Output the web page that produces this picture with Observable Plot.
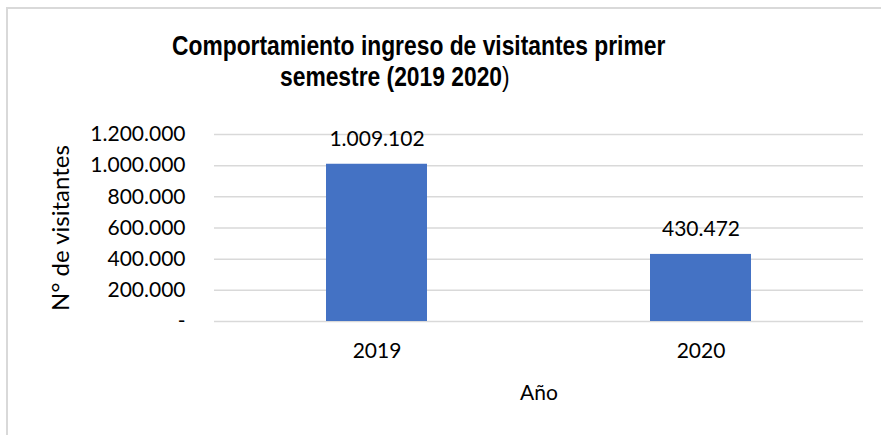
<!DOCTYPE html>
<html>
<head>
<meta charset="utf-8">
<script src="https://cdn.jsdelivr.net/npm/d3@7"></script>
<script src="https://cdn.jsdelivr.net/npm/@observablehq/plot@0.6"></script>
<style>
  html, body { margin: 0; padding: 0; background: #fff; }
  #wrap { position: relative; width: 881px; height: 435px; overflow: hidden; }
  #frame { position: absolute; left: 6px; top: 7px; width: 880px; height: 430px;
           border-left: 2px solid #d9d9d9; border-top: 2px solid #d9d9d9; box-sizing: border-box; }
  .title { position: absolute; font-family: "Liberation Sans", Arial, sans-serif; font-weight: bold;
           font-size: 28px; line-height: 31px; white-space: nowrap; color: #000;
           transform: scaleX(0.815); transform-origin: 0 0; }
  #chart { position: absolute; left: 0; top: 0; }
</style>
</head>
<body>
<div id="wrap">
  <div id="frame"></div>
  <div id="chart"></div>
  <div class="title" style="left:172px; top:29.8px;">Comportamiento ingreso de visitantes primer</div>
  <div class="title" style="left:280px; top:60.8px;">semestre (2019 2020<span style="font-weight:normal">)</span></div>
</div>
<script>
const years = ["2019", "2020"];
const visitors = [1009102, 430472];
const yTicks = [0, 200000, 400000, 600000, 800000, 1000000, 1200000];
const xTitle = "Año";
const yTitle = "N° de visitantes";

const data = years.map((y, i) => ({year: y, value: visitors[i]}));
const fmt = d => d === 0 ? "-" : d3.format(",")(d).replace(/,/g, ".");

const chart = Plot.plot({
  width: 881,
  height: 435,
  marginLeft: 214,
  marginRight: 18,
  marginTop: 134,
  marginBottom: 114,
  style: {fontFamily: "Lato, sans-serif", fontSize: "21px", color: "#000", background: "transparent"},
  x: {domain: years, paddingInner: 0.689, paddingOuter: 0.3445, label: null},
  y: {domain: [0, 1200000], label: null},
  marks: [
    Plot.ruleY(yTicks, {stroke: "#d9d9d9", strokeWidth: 1.5}),
    Plot.barY(data, {x: "year", y: "value", fill: "#4472C4"}),
    Plot.text(data, {x: "year", y: "value", text: d => fmt(d.value), dy: -18, lineAnchor: "bottom", fill: "#000"}),
    Plot.axisY({ticks: yTicks, tickFormat: fmt, tickSize: 0, tickPadding: 29, label: null}),
    Plot.axisX({tickSize: 0, tickPadding: 22, label: null}),
    Plot.text([xTitle], {frameAnchor: "bottom", dy: 78, lineAnchor: "bottom", text: d => d, fill: "#000"}),
    Plot.text([yTitle], {frameAnchor: "left", dx: -153, rotate: -90, textAnchor: "middle", lineAnchor: "middle", text: d => d, fill: "#000", fontSize: 24})
  ]
});
document.getElementById("chart").appendChild(chart);
</script>
</body>
</html>
